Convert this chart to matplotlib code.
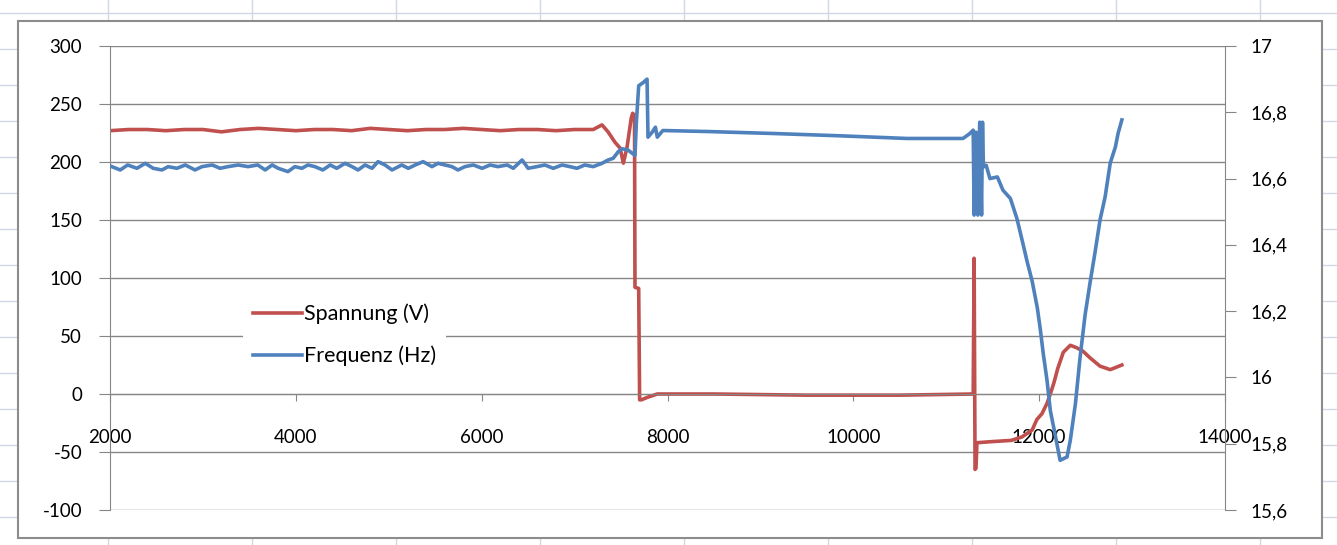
import matplotlib
matplotlib.use("Agg")
import matplotlib.pyplot as plt
from matplotlib.patches import Rectangle
from matplotlib.ticker import FixedLocator, FixedFormatter
import numpy as np

plt.rcParams['font.family'] = ['Lato', 'DejaVu Sans']
plt.rcParams['axes.unicode_minus'] = False

# Spannung (V), left axis
spannung_x = [2000, 2200, 2400, 2600, 2800, 3000, 3200, 3400, 3600, 3800,
              4000, 4200, 4400, 4600, 4800, 5000, 5200, 5400, 5600, 5800,
              6000, 6200, 6400, 6600, 6800, 7000, 7200, 7295, 7360, 7435,
              7490, 7525, 7545, 7565, 7610, 7625, 7645, 7650, 7690, 7700,
              7720, 7780, 7890, 8500, 9500, 10500, 11290, 11300, 11310, 11320,
              11330, 11500, 11700, 11815, 11925, 11975, 12030, 12085, 12120, 12160,
              12200, 12260, 12335, 12400, 12470, 12550, 12655, 12765, 12890]
spannung_y = [227, 228, 228, 227, 228, 228, 226, 228, 229, 228,
              227, 228, 228, 227, 229, 228, 227, 228, 228, 229,
              228, 227, 228, 228, 227, 228, 228, 232, 226, 217,
              212, 199, 206, 213, 238, 242, 240, 92, 91, -5,
              -5, -3, 0, 0, -1, -1, 0, 117, -65, -64,
              -42, -41, -40, -37, -31, -22, -17, -8, 0, 10,
              22, 36, 42, 40, 37, 31, 24, 21, 25]

# Frequenz (Hz), right axis
frequenz_x = [2020, 2110, 2190, 2290, 2380, 2465, 2560, 2625, 2720, 2810,
              2915, 2990, 3100, 3185, 3270, 3380, 3485, 3590, 3670, 3745,
              3810, 3915, 3990, 4065, 4130, 4205, 4290, 4370, 4440, 4530,
              4605, 4670, 4745, 4820, 4885, 4960, 5035, 5140, 5210, 5285,
              5370, 5465, 5530, 5605, 5680, 5745, 5820, 5910, 6005, 6090,
              6175, 6275, 6340, 6435, 6500, 6595, 6680, 6770, 6865, 6950,
              7025, 7110, 7200, 7295, 7360, 7415, 7470, 7510, 7575, 7650,
              7665, 7690, 7740, 7780, 7790, 7835, 7870, 7890, 7950, 8425,
              9140, 9860, 10580, 11180, 11250, 11290, 11300, 11320, 11340, 11360,
              11380, 11390, 11400, 11430, 11470, 11550, 11610, 11690, 11760, 11820,
              11870, 11925, 11980, 12010, 12045, 12085, 12120, 12170, 12225, 12300,
              12335, 12390, 12440, 12495, 12550, 12600, 12655, 12710, 12765, 12820,
              12850, 12890]
frequenz_y = [16.636, 16.626, 16.641, 16.631, 16.646, 16.631, 16.626, 16.636, 16.631, 16.641,
              16.626, 16.636, 16.641, 16.631, 16.636, 16.641, 16.636, 16.641, 16.626, 16.641,
              16.631, 16.621, 16.636, 16.631, 16.641, 16.636, 16.626, 16.641, 16.631, 16.646,
              16.636, 16.626, 16.641, 16.631, 16.651, 16.641, 16.626, 16.641, 16.631, 16.641,
              16.651, 16.636, 16.646, 16.641, 16.636, 16.626, 16.636, 16.641, 16.631, 16.641,
              16.636, 16.641, 16.631, 16.656, 16.631, 16.636, 16.641, 16.631, 16.641, 16.636,
              16.631, 16.641, 16.636, 16.646, 16.656, 16.661, 16.681, 16.690, 16.686, 16.670,
              16.770, 16.880, 16.890, 16.900, 16.725, 16.740, 16.755, 16.725, 16.745, 16.742,
              16.736, 16.729, 16.721, 16.721, 16.735, 16.746, 16.490, 16.740, 16.490, 16.770,
              16.490, 16.770, 16.635, 16.640, 16.600, 16.605, 16.565, 16.540, 16.480, 16.410,
              16.350, 16.290, 16.210, 16.150, 16.070, 15.990, 15.900, 15.830, 15.750, 15.760,
              15.810, 15.920, 16.060, 16.190, 16.290, 16.375, 16.475, 16.545, 16.647, 16.695,
              16.737, 16.777]

x_ticks = [2000, 4000, 6000, 8000, 10000, 12000, 14000]
left_ticks = [-100, -50, 0, 50, 100, 150, 200, 250, 300]
right_ticks = [15.6, 15.8, 16.0, 16.2, 16.4, 16.6, 16.8, 17.0]
right_labels = ['15,6', '15,8', '16', '16,2', '16,4', '16,6', '16,8', '17']

RED = '#C0504D'
BLUE = '#4F81BD'
GRID = '#868686'
W, H = 1337, 545

fig = plt.figure(figsize=(W / 100, H / 100), dpi=100)
fig.patch.set_facecolor('white')

# spreadsheet background with cell lines and the chart frame
bg = fig.add_axes([0, 0, 1, 1], zorder=0)
bg.set_xlim(0, W)
bg.set_ylim(H, 0)
bg.axis('off')
for vx in np.arange(108, W, 144):
    bg.axvline(vx, color='#D0D7E5', lw=1, zorder=0)
for hy in np.arange(13, H, 36):
    bg.axhline(hy, color='#D0D7E5', lw=1, zorder=0)
bg.add_patch(Rectangle((18, 21), 1304, 517, facecolor='white',
                       edgecolor='#8C8C8C', lw=1.5, zorder=2))

ax = fig.add_axes([110 / W, 1 - 510 / H, 1115 / W, 464 / H], zorder=1)
ax.patch.set_alpha(0)
ax.set_xlim(2000, 14000)
ax.set_ylim(-100, 300)
ax.yaxis.set_major_locator(FixedLocator(left_ticks))
ax.xaxis.set_major_locator(FixedLocator(x_ticks))
ax.grid(axis='y', color=GRID, lw=1)
ax.set_axisbelow(True)
ax.spines['top'].set_visible(False)
ax.spines['right'].set_visible(False)
ax.spines['left'].set_color(GRID)
ax.spines['bottom'].set_color(GRID)
ax.spines['bottom'].set_position(('data', 0))
ax.tick_params(axis='y', direction='out', length=8, color=GRID, pad=12, labelsize=13.5)
ax.tick_params(axis='x', direction='out', length=5, color=GRID, pad=20, labelsize=13.5)

l1, = ax.plot(spannung_x, spannung_y, color=RED, lw=2.6, solid_joinstyle='round')

ax2 = ax.twinx()
ax2.set_ylim(15.6, 17.0)
ax2.yaxis.set_major_locator(FixedLocator(right_ticks))
ax2.yaxis.set_major_formatter(FixedFormatter(right_labels))
for s in ['top', 'left', 'bottom']:
    ax2.spines[s].set_visible(False)
ax2.spines['right'].set_color(GRID)
ax2.tick_params(axis='y', direction='out', length=8, color=GRID, pad=10, labelsize=13.5)

l2, = ax2.plot(frequenz_x, frequenz_y, color=BLUE, lw=2.6, solid_joinstyle='round')

leg = ax2.legend([l1, l2], ['Spannung (V)', 'Frequenz (Hz)'],
                 loc='upper left', bbox_to_anchor=(243 / W, 1 - 294 / H),
                 bbox_transform=fig.transFigure, borderaxespad=0,
                 fontsize=15.5, handlelength=2.3, handletextpad=0.1,
                 labelspacing=1.0, borderpad=0.45, fancybox=False)
leg.get_frame().set_facecolor('white')
leg.get_frame().set_edgecolor('none')
leg.get_frame().set_alpha(1)

fig.savefig('out.png', dpi=100)
